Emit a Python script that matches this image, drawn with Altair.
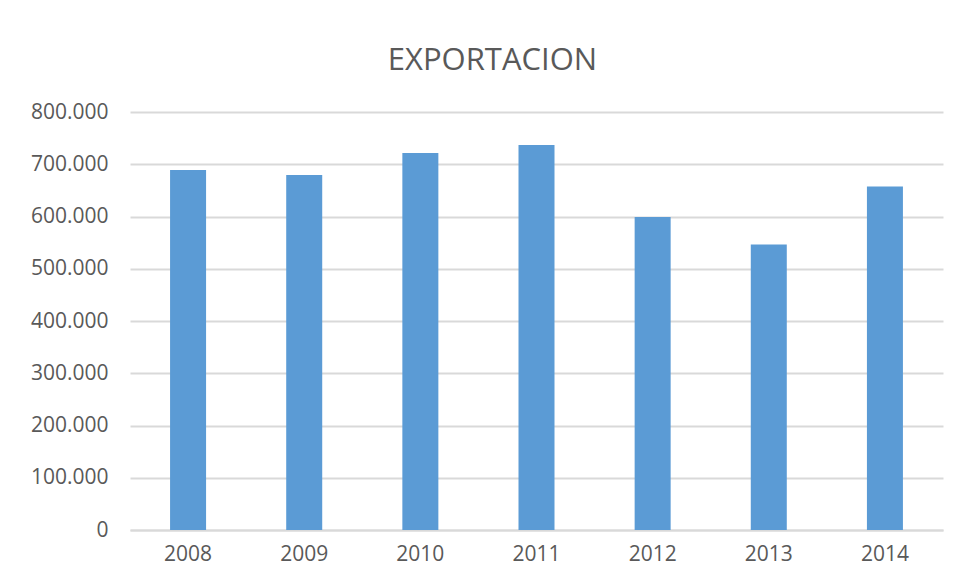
import altair as alt
import pandas as pd

years = ["2008", "2009", "2010", "2011", "2012", "2013", "2014"]
exports = [689000, 679500, 721500, 737000, 599000, 546500, 657500]

df = pd.DataFrame({"year": years, "value": exports})

FONT = "Open Sans"
TXT = "#595959"
GRID = "#D9D9D9"

bars = alt.Chart(df).mark_bar(color="#5B9BD5").encode(
    x=alt.X(
        "year:N",
        sort=years,
        title=None,
        scale=alt.Scale(paddingInner=0.69, paddingOuter=0.345),
        axis=alt.Axis(
            labelAngle=0,
            labelFont=FONT,
            labelFontSize=21,
            labelColor=TXT,
            labelPadding=13,
            ticks=False,
            domainColor=GRID,
            domainWidth=2,
            grid=False,
        ),
    ),
    y=alt.Y(
        "value:Q",
        title=None,
        scale=alt.Scale(domain=[0, 800000]),
        axis=alt.Axis(
            values=[0, 100000, 200000, 300000, 400000, 500000, 600000, 700000, 800000],
            labelExpr="replace(format(datum.value, ','), ',', '.')",
            labelFont=FONT,
            labelFontSize=21,
            labelColor=TXT,
            labelPadding=22,
            ticks=False,
            domain=False,
            grid=True,
            gridColor=GRID,
            gridWidth=2,
        ),
    ),
)

chart = bars.properties(
    width=813,
    height=418,
    background="white",
    autosize=alt.AutoSizeParams(type="none"),
    padding={"left": 122, "top": 104, "right": 7, "bottom": 48},
    title=alt.TitleParams(
        "EXPORTACION",
        font=FONT,
        fontSize=31,
        fontWeight="normal",
        color=TXT,
        anchor="middle",
        baseline="alphabetic",
        dx=-44,
        offset=0,
    ),
).configure_view(stroke=None)

chart.save("out.html", embed_options={"renderer": "svg", "actions": False})
